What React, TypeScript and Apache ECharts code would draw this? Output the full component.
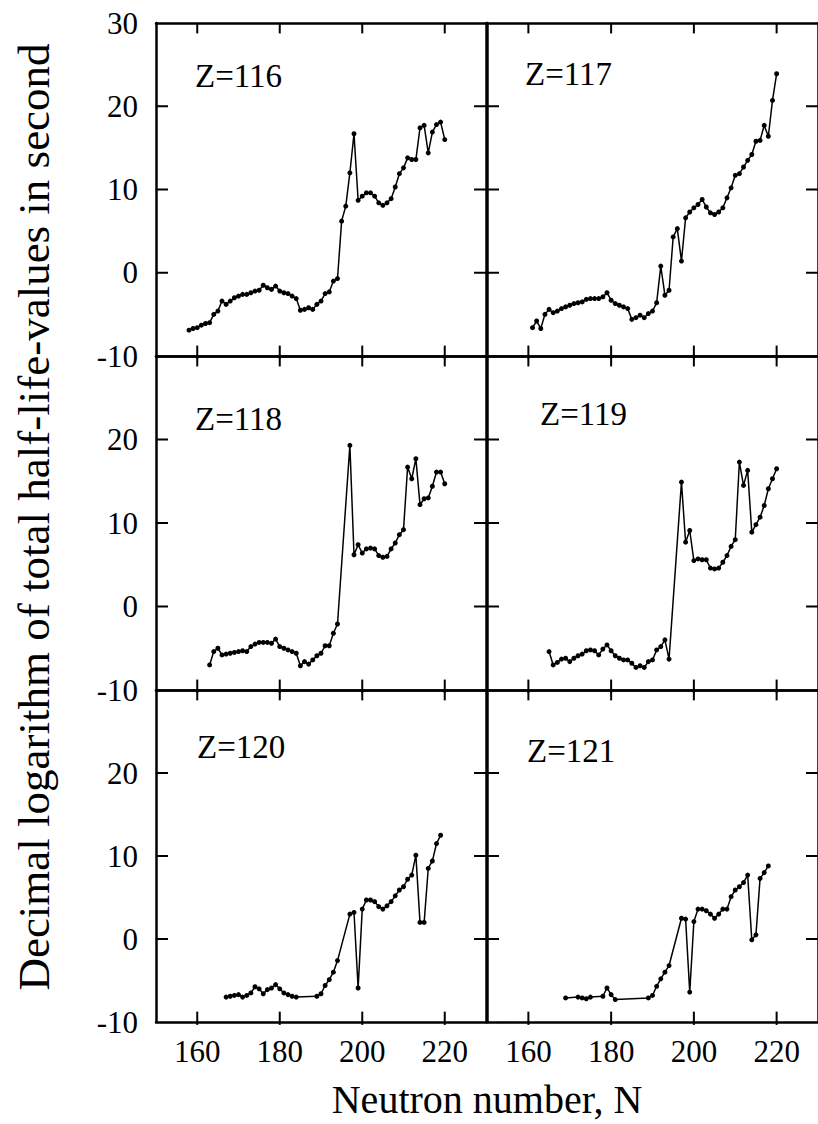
import React, { useEffect, useRef } from "react";
import * as echarts from "echarts";

// Neutron numbers and decimal log of half-life (s) for each Z
const N116 = [158,159,160,161,162,163,164,165,166,167,168,169,170,171,172,173,174,175,176,177,178,179,180,181,182,183,184,185,186,187,188,189,190,191,192,193,194,195,196,197,198,199,200,201,202,203,204,205,206,207,208,209,210,211,212,213,214,215,216,217,218,219,220];
const V116 = [-6.9,-6.7,-6.6,-6.3,-6.1,-6.0,-5.0,-4.6,-3.4,-3.8,-3.4,-3.0,-2.8,-2.6,-2.6,-2.4,-2.2,-2.1,-1.5,-1.8,-2.0,-1.6,-2.2,-2.4,-2.5,-2.8,-3.1,-4.5,-4.4,-4.2,-4.4,-3.8,-3.4,-2.5,-2.3,-1.0,-0.7,6.2,8.0,12.0,16.7,8.7,9.2,9.6,9.6,9.2,8.4,8.1,8.4,8.9,10.3,11.9,12.6,13.8,13.6,13.6,17.4,17.7,14.4,16.9,17.8,18.1,16.0];

const N117 = [161,162,163,164,165,166,167,168,169,170,171,172,173,174,175,176,177,178,179,180,181,182,183,184,185,186,187,188,189,190,191,192,193,194,195,196,197,198,199,200,201,202,203,204,205,206,207,208,209,210,211,212,213,214,215,216,217,218,219,220];
const V117 = [-6.6,-5.8,-6.7,-5.0,-4.4,-4.8,-4.6,-4.3,-4.1,-3.9,-3.7,-3.6,-3.5,-3.2,-3.1,-3.1,-3.1,-2.9,-2.4,-3.3,-3.7,-3.9,-4.1,-4.3,-5.6,-5.4,-5.1,-5.4,-4.9,-4.6,-3.6,0.8,-2.7,-2.1,4.3,5.3,1.4,6.6,7.3,7.8,8.2,8.8,7.9,7.2,7.0,7.3,7.8,9.0,10.2,11.7,11.9,12.7,13.5,14.2,15.8,15.9,17.7,16.4,20.7,23.9];

const N118 = [163,164,165,166,167,168,169,170,171,172,173,174,175,176,177,178,179,180,181,182,183,184,185,186,187,188,189,190,191,192,193,194,197,198,199,200,201,202,203,204,205,206,207,208,209,210,211,212,213,214,215,216,217,218,219,220];
const V118 = [-7.0,-5.4,-5.0,-5.8,-5.7,-5.6,-5.5,-5.4,-5.3,-5.4,-4.8,-4.5,-4.3,-4.3,-4.3,-4.4,-3.9,-4.8,-5.0,-5.2,-5.4,-5.6,-7.1,-6.6,-6.9,-6.4,-5.9,-5.6,-4.7,-4.7,-3.2,-2.1,19.3,6.2,7.4,6.4,6.9,7.0,6.9,6.1,5.9,6.0,6.9,7.6,8.6,9.2,16.7,15.3,17.7,12.2,12.9,13.0,14.4,16.1,16.1,14.7];

const N119 = [165,166,167,168,169,170,171,172,173,174,175,176,177,178,179,180,181,182,183,184,185,186,187,188,189,190,191,192,193,194,197,198,199,200,201,202,203,204,205,206,207,208,209,210,211,212,213,214,215,216,217,218,219,220];
const V119 = [-5.4,-7.0,-6.7,-6.3,-6.2,-6.6,-6.2,-5.9,-5.7,-5.3,-5.2,-5.3,-5.8,-5.1,-4.6,-5.3,-5.9,-6.2,-6.4,-6.4,-6.8,-7.3,-7.1,-7.3,-6.6,-6.4,-5.2,-4.8,-4.0,-6.3,14.9,7.7,9.1,5.5,5.7,5.6,5.6,4.6,4.5,4.6,5.3,6.1,7.2,8.0,17.3,14.5,16.3,8.9,9.8,10.7,12.1,14.1,15.3,16.5];

const N120 = [167,168,169,170,171,172,173,174,175,176,177,178,179,180,181,182,183,184,189,190,191,192,193,194,197,198,199,200,201,202,203,204,205,206,207,208,209,210,211,212,213,214,215,216,217,218,219];
const V120 = [-7.0,-6.9,-6.8,-6.7,-7.0,-6.8,-6.5,-5.75,-6.0,-6.6,-6.1,-5.9,-5.5,-6.0,-6.5,-6.7,-6.9,-7.0,-6.9,-6.6,-5.6,-4.9,-4.0,-2.6,3.0,3.2,-5.9,3.6,4.7,4.7,4.5,3.9,3.6,4.0,4.5,5.2,5.9,6.3,7.2,7.7,10.1,2.0,2.0,8.5,9.4,11.5,12.5];

const N121 = [169,172,173,174,175,178,179,180,181,189,190,191,192,193,194,197,198,199,200,201,202,203,204,205,206,207,208,209,210,211,212,213,214,215,216,217,218];
const V121 = [-7.1,-7.0,-7.1,-7.2,-7.0,-6.9,-5.9,-6.7,-7.3,-7.1,-6.8,-5.7,-4.8,-4.0,-3.2,2.5,2.4,-6.4,2.1,3.6,3.6,3.4,3.0,2.5,3.0,3.6,3.6,5.1,5.9,6.3,6.8,7.7,-0.1,0.5,7.3,8.0,8.8];

const PANEL_LABELS = ["Z=116", "Z=117", "Z=118", "Z=119", "Z=120", "Z=121"];
const PANEL_N = [N116, N117, N118, N119, N120, N121];
const PANEL_V = [V116, V117, V118, V119, V120, V121];

const X_TICKS = [160, 180, 200, 220];
const Y_TICKS = [0, 10, 20];
const Y_LABELS_TOP = [-10, 0, 10, 20, 30];
const Y_LABELS_REST = [-10, 0, 10, 20];

const X_TITLE = "Neutron number, N";
const Y_TITLE = "Decimal logarithm of total half-life-values in second";

export default function App() {
  const ref = useRef<HTMLDivElement>(null);

  useEffect(() => {
    if (!ref.current) return;
    const chart = echarts.init(ref.current, null, { renderer: "svg" });
    const font = "'Liberation Serif', 'Times New Roman', serif";
    const colLeft = [156, 487];
    const colWidth = [330, 336];
    const rowTop = [23, 356, 690];
    const rowHeight = [333, 334, 332];
    const labelPos = [
      [195, 76],
      [525, 74],
      [195, 419],
      [540, 414],
      [197, 747],
      [527, 751],
    ];
    const X_MIN = 150;
    const X_MAX = 230;
    const Y_MIN = -10;
    const Y_MAX = 30;
    // tick lengths expressed in axis units (about 10-12 px)
    const X_TICK_LEN = 1.25; // y-units, vertical ticks on top/bottom edges
    const X_TICK_OUT = 0.35; // small outward part at the bottom edge
    const Y_TICK_LEN = 2.9; // x-units, horizontal ticks on left/right edges

    const grids: any[] = [];
    const xAxes: any[] = [];
    const yAxes: any[] = [];
    const series: any[] = [];
    const graphics: any[] = [];

    const lineStyle = { color: "#000", width: 2.5 };

    const tickLine = (i: number, a: number[], b: number[]) => ({
      type: "line",
      xAxisIndex: 2 * i,
      yAxisIndex: 2 * i,
      data: [a, b],
      showSymbol: false,
      symbol: "none",
      lineStyle: { color: "#000", width: 2 },
      clip: false,
      silent: true,
      z: 4,
    });

    PANEL_LABELS.forEach((lab, i) => {
      const r = Math.floor(i / 2);
      const c = i % 2;
      grids.push({
        left: colLeft[c],
        top: rowTop[r],
        width: colWidth[c],
        height: rowHeight[r],
        show: false,
        containLabel: false,
      });
      const xBase = {
        type: "value",
        min: X_MIN,
        max: X_MAX,
        gridIndex: i,
        splitLine: { show: false },
        axisLine: { show: true, onZero: false, lineStyle },
        axisTick: { show: false },
      };
      xAxes.push({
        ...xBase,
        position: "bottom",
        axisLabel: {
          show: r === 2,
          customValues: X_TICKS,
          fontFamily: font,
          fontSize: 31,
          color: "#000",
          margin: 14,
        },
      });
      xAxes.push({ ...xBase, position: "top", axisLabel: { show: false } });
      const yBase = {
        type: "value",
        min: Y_MIN,
        max: Y_MAX,
        interval: 10,
        gridIndex: i,
        splitLine: { show: false },
        axisLine: { show: true, onZero: false, lineStyle },
        axisTick: { show: false },
      };
      yAxes.push({
        ...yBase,
        position: "left",
        axisLabel: {
          show: c === 0,
          customValues: r === 0 ? Y_LABELS_TOP : Y_LABELS_REST,
          fontFamily: font,
          fontSize: 31,
          color: "#000",
          margin: 18,
        },
      });
      yAxes.push({ ...yBase, position: "right", axisLabel: { show: false } });

      const ns = PANEL_N[i];
      const vs = PANEL_V[i];
      series.push({
        type: "line",
        xAxisIndex: 2 * i,
        yAxisIndex: 2 * i,
        data: ns.map((n, k) => [n, vs[k]]),
        symbol: "circle",
        symbolSize: 5,
        showSymbol: true,
        lineStyle: { color: "#000", width: 1.5 },
        itemStyle: { color: "#000" },
        z: 3,
      });

      // tick marks, drawn through the panel's own axes
      X_TICKS.forEach((v) => {
        series.push(tickLine(i, [v, Y_MIN - X_TICK_OUT], [v, Y_MIN + X_TICK_LEN]));
        series.push(tickLine(i, [v, Y_MAX], [v, Y_MAX - X_TICK_LEN]));
      });
      Y_TICKS.forEach((v) => {
        series.push(tickLine(i, [X_MIN, v], [X_MIN + Y_TICK_LEN, v]));
        series.push(tickLine(i, [X_MAX, v], [X_MAX - Y_TICK_LEN, v]));
      });

      graphics.push({
        type: "text",
        x: labelPos[i][0],
        y: labelPos[i][1],
        style: {
          text: lab,
          fontFamily: font,
          fontSize: 33,
          fill: "#000",
          align: "left",
          verticalAlign: "middle",
        },
      });
    });

    graphics.push({
      type: "text",
      x: 487,
      y: 1099,
      style: {
        text: X_TITLE,
        fontFamily: font,
        fontSize: 40,
        fill: "#000",
        align: "center",
        verticalAlign: "middle",
      },
    });
    graphics.push({
      type: "text",
      x: 34,
      y: 517,
      rotation: Math.PI / 2,
      style: {
        text: Y_TITLE,
        fontFamily: font,
        fontSize: 45,
        fill: "#000",
        align: "center",
        verticalAlign: "middle",
      },
    });

    chart.setOption({
      animation: false,
      backgroundColor: "#fff",
      grid: grids,
      xAxis: xAxes,
      yAxis: yAxes,
      series,
      graphic: graphics,
    });

    return () => chart.dispose();
  }, []);

  return (
    <div
      ref={ref}
      style={{ position: "absolute", left: 0, top: 0, width: 818, height: 1124 }}
    />
  );
}
